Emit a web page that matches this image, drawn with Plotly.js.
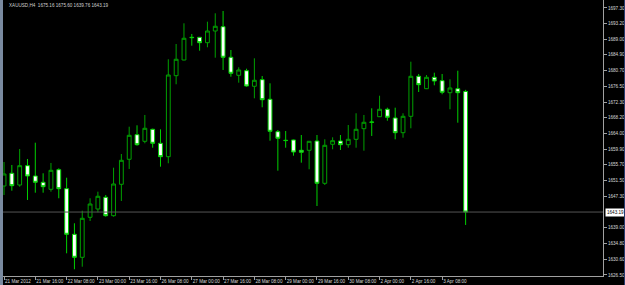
<!DOCTYPE html>
<html><head><meta charset="utf-8">
<script src="https://cdn.plot.ly/plotly-3.0.1.min.js"></script>
<style>
html,body{margin:0;padding:0;background:#000;}
#wrap{position:relative;width:625px;height:285px;overflow:hidden;background:#000;}
#chart{position:absolute;left:0;top:0;width:625px;height:285px;}
#lb{position:absolute;left:0;top:0;width:3px;height:285px;background:#7a8aa0;}
#rb{position:absolute;right:0;top:0;width:1px;height:285px;background:#283c6e;}
</style></head>
<body><div id="wrap"><div id="chart"></div><div id="lb"></div><div id="rb"></div></div>
<script>
// H4 bar days and hours (categories)
const days = ['2012.03.21','2012.03.22','2012.03.23','2012.03.26','2012.03.27','2012.03.28','2012.03.29','2012.03.30','2012.04.02','2012.04.03'];
const hours = ['00:00','04:00','08:00','12:00','16:00','20:00'];
const times = [];
days.forEach(d => hours.forEach(h => times.push(d + ' ' + h)));

const open  = [1650.10,1653.47,1650.36,1655.48,1652.75,1651.08,1649.22,1654.42,1649.38,1637.29,
               1631.19,1641.80,1644.00,1647.10,1642.22,1650.55,1657.18,1663.70,1661.95,1665.13,
               1661.42,1657.87,1679.35,1683.51,1689.53,1689.53,1688.10,1691.20,1692.34,1684.23,
               1679.45,1680.67,1676.54,1678.29,1673.09,1664.50,1662.22,1662.30,1659.56,1659.56,
               1662.03,1650.81,1661.16,1662.03,1661.05,1662.48,1665.29,1667.07,1668.47,1670.44,
               1668.13,1664.23,1668.58,1679.19,1675.90,1678.92,1678.02,1674.84,1675.90,1675.16];
const high  = [1656.46,1655.67,1659.91,1657.26,1661.58,1653.47,1656.20,1654.79,1652.30,1640.21,
               1643.55,1646.84,1648.59,1647.71,1654.95,1658.58,1665.82,1666.19,1668.93,1665.30,
               1665.13,1683.70,1687.75,1693.24,1690.41,1689.60,1693.67,1695.89,1696.50,1686.16,
               1681.57,1681.20,1683.96,1679.27,1677.33,1664.95,1664.68,1662.40,1663.62,1662.00,
               1663.62,1662.48,1663.01,1663.62,1666.27,1669.38,1668.93,1670.70,1674.04,1670.86,
               1670.86,1669.38,1683.06,1679.80,1679.53,1680.14,1679.80,1678.39,1680.67,1675.60];
const low   = [1647.71,1648.85,1649.91,1646.39,1648.32,1648.32,1648.59,1646.84,1632.25,1628.01,
               1628.70,1640.82,1643.12,1641.96,1641.96,1646.12,1654.61,1660.78,1661.42,1660.25,
               1655.22,1656.12,1677.07,1683.40,1687.30,1685.98,1686.88,1684.12,1680.86,1679.08,
               1677.49,1676.43,1673.35,1670.97,1662.11,1654.16,1660.25,1658.13,1656.28,1654.53,
               1644.79,1650.36,1659.83,1659.64,1660.25,1660.25,1659.46,1663.36,1668.40,1667.41,
               1662.48,1662.91,1665.40,1675.02,1675.80,1676.80,1674.42,1670.44,1666.88,1639.76];
const close = [1653.28,1650.18,1655.48,1652.75,1651.08,1649.91,1654.26,1649.38,1637.29,1631.19,
               1641.53,1645.32,1647.37,1642.22,1650.63,1656.91,1663.54,1661.05,1665.40,1661.42,
               1657.87,1679.53,1683.70,1689.27,1689.45,1688.10,1691.20,1692.45,1684.23,1679.98,
               1680.86,1676.62,1678.13,1672.98,1664.60,1662.75,1662.15,1659.11,1659.03,1661.95,
               1650.81,1660.89,1662.11,1661.05,1662.48,1665.13,1666.99,1667.00,1670.44,1668.32,
               1664.23,1668.58,1679.19,1676.96,1678.92,1677.94,1674.95,1676.09,1674.84,1643.19];

const xTickCats = ['2012.03.21 00:00','2012.03.21 16:00','2012.03.22 08:00','2012.03.23 00:00','2012.03.23 16:00',
                   '2012.03.26 08:00','2012.03.27 00:00','2012.03.27 16:00','2012.03.28 08:00','2012.03.29 00:00',
                   '2012.03.29 16:00','2012.03.30 08:00','2012.04.02 00:00','2012.04.02 16:00','2012.04.03 08:00'];
const xTickLabels = ['21 Mar 2012','21 Mar 16:00','22 Mar 08:00','23 Mar 00:00','23 Mar 16:00',
                     '26 Mar 08:00','27 Mar 00:00','27 Mar 16:00','28 Mar 08:00','29 Mar 00:00',
                     '29 Mar 16:00','30 Mar 08:00','2 Apr 00:00','2 Apr 16:00','3 Apr 08:00'];
const yTicks = [1697.30,1693.20,1689.00,1684.90,1680.70,1676.50,1672.30,1668.20,1664.00,
                1659.90,1655.70,1651.50,1647.30,1639.00,1634.80,1630.60,1626.50];

const symbolHeader = 'XAUUSD,H4';
const last = close.length - 1;
const headerText = symbolHeader + '  ' + open[last].toFixed(2) + ' ' + high[last].toFixed(2) + ' ' +
                   low[last].toFixed(2) + ' ' + close[last].toFixed(2);

const font = {family: 'Liberation Sans, Arial, sans-serif', size: 4.6, color: '#d8d8d8'};

const trace = {
  type: 'candlestick',
  x: times, open: open, high: high, low: low, close: close,
  increasing: {line: {color: '#00a000', width: 1}, fillcolor: '#000000'},
  decreasing: {line: {color: '#00d000', width: 1}, fillcolor: '#ffffff'},
  whiskerwidth: 0,
  hoverinfo: 'skip'
};

const layout = {
  width: 625, height: 285,
  margin: {l: 3, r: 22, t: 0, b: 9, pad: 0},
  paper_bgcolor: '#000000', plot_bgcolor: '#000000',
  showlegend: false,
  font: font,
  xaxis: {
    type: 'category', range: [-0.13, 76.56],
    rangeslider: {visible: false},
    showgrid: false, zeroline: false,
    showline: true, linecolor: '#a0a0a0', linewidth: 1,
    ticks: 'outside', ticklen: 3, tickcolor: '#a0a0a0', tickwidth: 1,
    tickvals: xTickCats, ticktext: xTickLabels,
    ticklabelposition: 'outside right',
    tickfont: font, tickangle: 0, automargin: false
  },
  yaxis: {
    side: 'right', range: [1626.23, 1699.42],
    showgrid: false, zeroline: false,
    showline: true, linecolor: '#a0a0a0', linewidth: 1,
    ticks: 'outside', ticklen: 3, tickcolor: '#a0a0a0', tickwidth: 1,
    tickvals: yTicks, ticktext: yTicks.map(v => v.toFixed(2)),
    tickfont: font, automargin: false
  },
  shapes: [{
    type: 'line', xref: 'paper', x0: 0, x1: 1, yref: 'y', y0: close[last], y1: close[last],
    line: {color: '#555555', width: 1}
  }],
  annotations: [
    {xref: 'paper', yref: 'paper', x: 0.006, y: 1, xanchor: 'left', yanchor: 'top', yshift: -1,
     text: headerText, showarrow: false, font: {family: font.family, size: 4.6, color: '#d0d0d0'}},
    {xref: 'paper', yref: 'y', x: 1, y: close[last], xanchor: 'left', yanchor: 'middle', xshift: 2,
     text: close[last].toFixed(2), showarrow: false, bgcolor: '#ffffff', borderpad: 1,
     font: {family: font.family, size: 4.6, color: '#000000'}}
  ]
};

Plotly.newPlot('chart', [trace], layout, {staticPlot: true, displayModeBar: false});
</script></body></html>
